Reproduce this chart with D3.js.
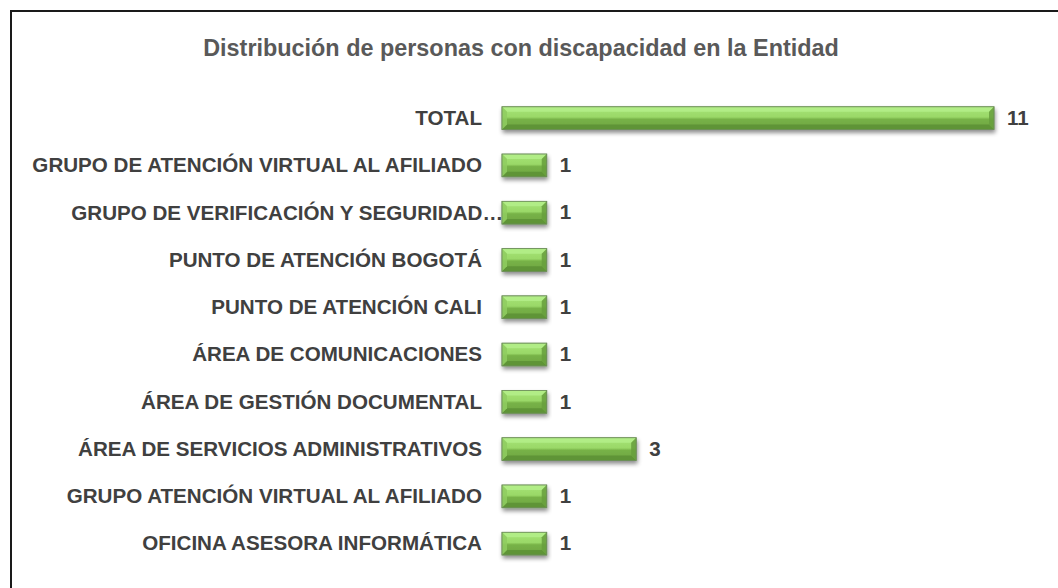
<!DOCTYPE html>
<html>
<head>
<meta charset="utf-8">
<script src="https://cdn.jsdelivr.net/npm/d3@7"></script>
<style>
  body { margin: 0; background: #fff; }
  text { font-family: "Liberation Sans", Arial, sans-serif; }
</style>
</head>
<body>
<div id="chart"></div>
<script>
const width = 1058;
const height = 588;

const categories = [
  "TOTAL",
  "GRUPO DE ATENCIÓN VIRTUAL AL AFILIADO",
  "GRUPO DE VERIFICACIÓN Y SEGURIDAD…",
  "PUNTO DE ATENCIÓN BOGOTÁ",
  "PUNTO DE ATENCIÓN CALI",
  "ÁREA DE COMUNICACIONES",
  "ÁREA DE GESTIÓN DOCUMENTAL",
  "ÁREA DE SERVICIOS ADMINISTRATIVOS",
  "GRUPO ATENCIÓN VIRTUAL AL AFILIADO",
  "OFICINA ASESORA INFORMÁTICA"
];
const values = [11, 1, 1, 1, 1, 1, 1, 3, 1, 1];
const title = "Distribución de personas con discapacidad en la Entidad";

const data = categories.map((c, i) => ({ name: c, value: values[i] }));

const svg = d3.select("#chart").append("svg")
  .attr("width", width)
  .attr("height", height);

const defs = svg.append("defs");

const grad = defs.append("linearGradient")
  .attr("id", "face")
  .attr("x1", 0).attr("x2", 0).attr("y1", 0).attr("y2", 1);
grad.append("stop").attr("offset", "0%").attr("stop-color", "#a6e476");
grad.append("stop").attr("offset", "45%").attr("stop-color", "#9ad868");
grad.append("stop").attr("offset", "55%").attr("stop-color", "#77b247");
grad.append("stop").attr("offset", "100%").attr("stop-color", "#6ea541");

const shadow = defs.append("filter")
  .attr("id", "shadow")
  .attr("x", "-10%").attr("y", "-30%")
  .attr("width", "120%").attr("height", "180%");
shadow.append("feDropShadow")
  .attr("dx", 1).attr("dy", 3)
  .attr("stdDeviation", 2)
  .attr("flood-color", "#000")
  .attr("flood-opacity", 0.45);

// frame (only top and left edges are visible in the crop)
svg.append("path")
  .attr("d", `M11,${height} L11,11 L${width},11`)
  .attr("fill", "none")
  .attr("stroke", "#1a1a1a")
  .attr("stroke-width", 2);

svg.append("text")
  .attr("x", 521)
  .attr("y", 56)
  .attr("text-anchor", "middle")
  .attr("font-size", 23.4)
  .attr("font-weight", "bold")
  .attr("fill", "#595959")
  .text(title);

const x = d3.scaleLinear()
  .domain([0, 11])
  .range([502, 994]);

const y = d3.scaleBand()
  .domain(categories)
  .range([94.5, 567.3])
  .paddingInner(0.52)
  .paddingOuter(0.26);

const bev = 5;

const bars = svg.append("g")
  .selectAll("g")
  .data(data)
  .join("g");

bars.append("rect")
  .attr("x", x(0))
  .attr("y", d => y(d.name))
  .attr("width", d => x(d.value) - x(0))
  .attr("height", y.bandwidth())
  .attr("fill", "url(#face)")
  .attr("stroke", "#6b8f55")
  .attr("stroke-width", 0.8)
  .attr("filter", "url(#shadow)");

// bevel edges
function bevels(d) {
  const x0 = x(0), x1 = x(d.value);
  const y0 = y(d.name), y1 = y0 + y.bandwidth();
  return [
    { pts: [[x0, y0], [x1, y0], [x1 - bev, y0 + bev], [x0 + bev, y0 + bev]], fill: "#b4ee8a" },
    { pts: [[x0, y1], [x1, y1], [x1 - bev, y1 - bev], [x0 + bev, y1 - bev]], fill: "#5c9135" },
    { pts: [[x0, y0], [x0 + bev, y0 + bev], [x0 + bev, y1 - bev], [x0, y1]], fill: "#8fcd60" },
    { pts: [[x1, y0], [x1 - bev, y0 + bev], [x1 - bev, y1 - bev], [x1, y1]], fill: "#679f3d" }
  ];
}

bars.selectAll("polygon")
  .data(d => bevels(d))
  .join("polygon")
  .attr("points", b => b.pts.map(p => p.join(",")).join(" "))
  .attr("fill", b => b.fill)
  .attr("opacity", 0.85);

bars.append("rect")
  .attr("x", x(0))
  .attr("y", d => y(d.name))
  .attr("width", d => x(d.value) - x(0))
  .attr("height", y.bandwidth())
  .attr("fill", "none")
  .attr("stroke", "#6f8f5c")
  .attr("stroke-width", 0.8);

// value labels
bars.append("text")
  .attr("x", d => x(d.value) + 13)
  .attr("y", d => y(d.name) + y.bandwidth() / 2)
  .attr("dy", "0.33em")
  .attr("font-size", 20.6)
  .attr("font-weight", "bold")
  .attr("fill", "#404040")
  .text(d => d.value);

// category labels
const yAxis = g => g
  .attr("transform", `translate(${x(0) - 20},0)`)
  .call(d3.axisLeft(y).tickSize(0).tickPadding(0))
  .call(g => g.select(".domain").remove())
  .call(g => g.selectAll("text")
    .attr("font-family", "'Liberation Sans', Arial, sans-serif")
    .attr("font-size", 20.6)
    .attr("font-weight", "bold")
    .attr("fill", "#404040")
    .attr("dy", "0.33em")
    .attr("dx", d => d.endsWith("…") ? 21 : 0));

svg.append("g").call(yAxis);
</script>
</body>
</html>
